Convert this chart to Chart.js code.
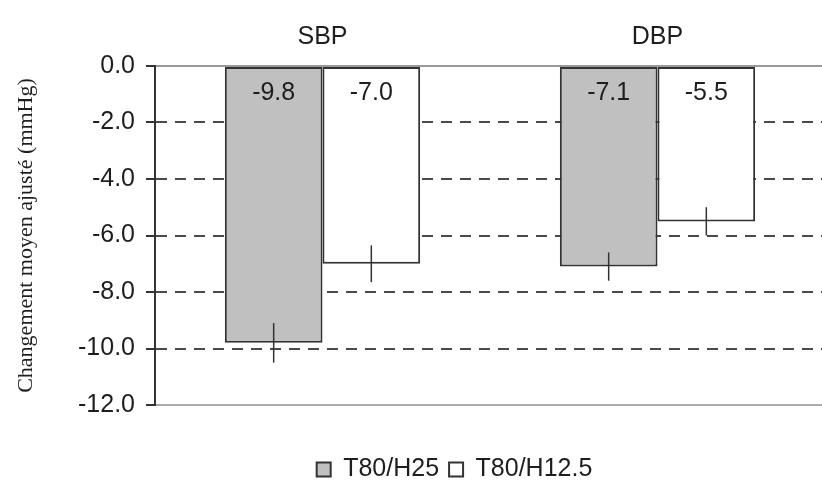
<!DOCTYPE html>
<html>
<head>
<meta charset="utf-8">
<script src="https://cdn.jsdelivr.net/npm/chart.js@4.4.1/dist/chart.umd.min.js"></script>
<style>
  html, body { margin: 0; padding: 0; background: #fff; overflow: hidden; }
  #wrap { width: 825px; height: 492px; }
</style>
</head>
<body>
<div id="wrap"><canvas id="bpChart" width="825" height="492"></canvas></div>
<script>
// chart data
const categories = ['SBP', 'DBP'];
const seriesNames = ['T80/H25', 'T80/H12.5'];
const valuesH25 = [-9.8, -7.1];
const valuesH125 = [-7.0, -5.5];
// half length of the error bars (mmHg)
const errH25 = [0.7, 0.5];
const errH125 = [0.65, 0.5];
const yTicks = [0, -2, -4, -6, -8, -10, -12];

const FONT = "'Liberation Sans', Arial, sans-serif";

// draws the values inside the bars and the error bars
const barExtras = {
  id: 'barExtras',
  afterDatasetsDraw(chart) {
    const c = chart.ctx;
    const y = chart.scales.y;
    const errs = [errH25, errH125];
    chart.data.datasets.forEach(function (ds, i) {
      const meta = chart.getDatasetMeta(i);
      meta.data.forEach(function (bar, j) {
        const v = ds.data[j];
        // error bar
        c.save();
        c.strokeStyle = '#333';
        c.lineWidth = 1.5;
        c.beginPath();
        c.moveTo(bar.x, y.getPixelForValue(v + errs[i][j]));
        c.lineTo(bar.x, y.getPixelForValue(v - errs[i][j]));
        c.stroke();
        // value label
        c.fillStyle = '#1e1e1e';
        c.font = '25px ' + FONT;
        c.textAlign = 'center';
        c.textBaseline = 'middle';
        c.fillText(v.toFixed(1), bar.x, y.getPixelForValue(0) + 27);
        c.restore();
      });
    });
  },
  afterLayout(chart) {
    // legend sits a bit right of the canvas centre
    chart.legend.left += 42;
    chart.legend.right += 42;
  }
};

var ctx = document.getElementById('bpChart').getContext('2d');

window.bpChart = new Chart(ctx, {
  type: 'bar',
  data: {
    labels: categories,
    datasets: [{
      label: seriesNames[0],
      data: valuesH25,
      backgroundColor: '#c0c0c0',
      borderColor: '#333',
      borderWidth: 2,
      borderSkipped: false
    }, {
      label: seriesNames[1],
      data: valuesH125,
      backgroundColor: '#ffffff',
      borderColor: '#333',
      borderWidth: 2,
      borderSkipped: false
    }]
  },
  options: {
    responsive: false,
    animation: false,
    layout: { padding: 0 },
    datasets: {
      bar: { categoryPercentage: 0.583, barPercentage: 1.0 }
    },
    plugins: {
      tooltip: { enabled: false },
      legend: {
        position: 'bottom',
        labels: {
          color: '#1e1e1e',
          font: { family: FONT, size: 25 },
          boxWidth: 14,
          boxHeight: 14,
          padding: 10
        }
      }
    },
    scales: {
      x: {
        position: 'top',
        grid: { display: false, drawTicks: false },
        border: { display: true, color: '#999', width: 2 },
        ticks: { color: '#1e1e1e', font: { family: FONT, size: 25 }, padding: 14 },
        afterFit: function (s) { s.height = 66; }
      },
      x2: {
        position: 'bottom',
        grid: { display: false, drawTicks: false },
        border: { display: true, color: '#aaa', width: 2 },
        ticks: { display: false },
        afterFit: function (s) { s.height = 42; }
      },
      y: {
        min: -12,
        max: 0,
        afterBuildTicks: function (s) {
          s.ticks = yTicks.map(function (v) { return { value: v }; });
        },
        grid: {
          color: function (c) {
            const v = c.tick ? c.tick.value : null;
            return (v === 0 || v === -12) ? 'rgba(0,0,0,0)' : '#4a4a4a';
          },
          lineWidth: 2,
          tickColor: '#333',
          tickLength: 9,
          tickBorderDash: []
        },
        border: { display: true, color: '#333', width: 2, dash: [11, 8] },
        ticks: {
          color: '#1e1e1e',
          font: { family: FONT, size: 25 },
          padding: 11,
          callback: function (v) { return Number(v).toFixed(1); }
        },
        title: {
          display: true,
          text: 'Changement moyen ajusté (mmHg)',
          color: '#1e1e1e',
          font: { family: "'Liberation Serif', 'Times New Roman', serif", size: 22 },
          padding: { top: 13, bottom: 0 }
        },
        afterFit: function (s) { s.width = 155; }
      }
    }
  },
  plugins: [barExtras]
});
</script>
</body>
</html>
